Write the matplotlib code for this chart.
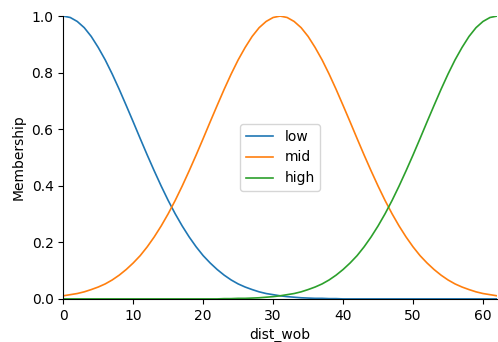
import matplotlib
matplotlib.use('Agg')
import matplotlib.pyplot as plt

# universe of dist_wob, one sample per unit
dist_wob = list(range(0, 63))

# membership values
low = [1.000, 0.995, 0.981, 0.959, 0.928, 0.889, 0.845, 0.795, 0.741, 0.684,
       0.626, 0.567, 0.509, 0.453, 0.399, 0.348, 0.301, 0.258, 0.219, 0.184,
       0.153, 0.127, 0.104, 0.084, 0.067, 0.053, 0.042, 0.033, 0.025, 0.019,
       0.015, 0.011, 0.008, 0.006, 0.004, 0.003, 0.002, 0.002, 0.001, 0.001,
       0.000, 0.000, 0.000, 0.000, 0.000, 0.000, 0.000, 0.000, 0.000, 0.000,
       0.000, 0.000, 0.000, 0.000, 0.000, 0.000, 0.000, 0.000, 0.000, 0.000,
       0.000, 0.000, 0.000]
mid = [0.011, 0.015, 0.019, 0.025, 0.033, 0.042, 0.053, 0.067, 0.084, 0.104,
       0.127, 0.153, 0.184, 0.219, 0.258, 0.301, 0.348, 0.399, 0.453, 0.509,
       0.567, 0.626, 0.684, 0.741, 0.795, 0.845, 0.889, 0.928, 0.959, 0.981,
       0.995, 1.000, 0.995, 0.981, 0.959, 0.928, 0.889, 0.845, 0.795, 0.741,
       0.684, 0.626, 0.567, 0.509, 0.453, 0.399, 0.348, 0.301, 0.258, 0.219,
       0.184, 0.153, 0.127, 0.104, 0.084, 0.067, 0.053, 0.042, 0.033, 0.025,
       0.019, 0.015, 0.011]
high = [0.000, 0.000, 0.000, 0.000, 0.000, 0.000, 0.000, 0.000, 0.000, 0.000,
        0.000, 0.000, 0.000, 0.000, 0.000, 0.000, 0.000, 0.000, 0.000, 0.000,
        0.000, 0.000, 0.000, 0.001, 0.001, 0.002, 0.002, 0.003, 0.004, 0.006,
        0.008, 0.011, 0.015, 0.019, 0.025, 0.033, 0.042, 0.053, 0.067, 0.084,
        0.104, 0.127, 0.153, 0.184, 0.219, 0.258, 0.301, 0.348, 0.399, 0.453,
        0.509, 0.567, 0.626, 0.684, 0.741, 0.795, 0.845, 0.889, 0.928, 0.959,
        0.981, 0.995, 1.000]

fig = plt.figure(figsize=(4.98, 3.42), dpi=100)
ax = fig.add_axes([0.127, 0.126, 0.871, 0.827])

ax.plot(dist_wob, low, linewidth=1.2, label='low')
ax.plot(dist_wob, mid, linewidth=1.2, label='mid')
ax.plot(dist_wob, high, linewidth=1.2, label='high')

ax.set_xlim(0, 62)
ax.set_ylim(0, 1.0)
ax.set_ylabel('Membership')
ax.set_xlabel('dist_wob')
ax.spines['top'].set_visible(False)
ax.spines['right'].set_visible(False)
ax.legend(loc='center')

fig.savefig('out.png', dpi=100)
